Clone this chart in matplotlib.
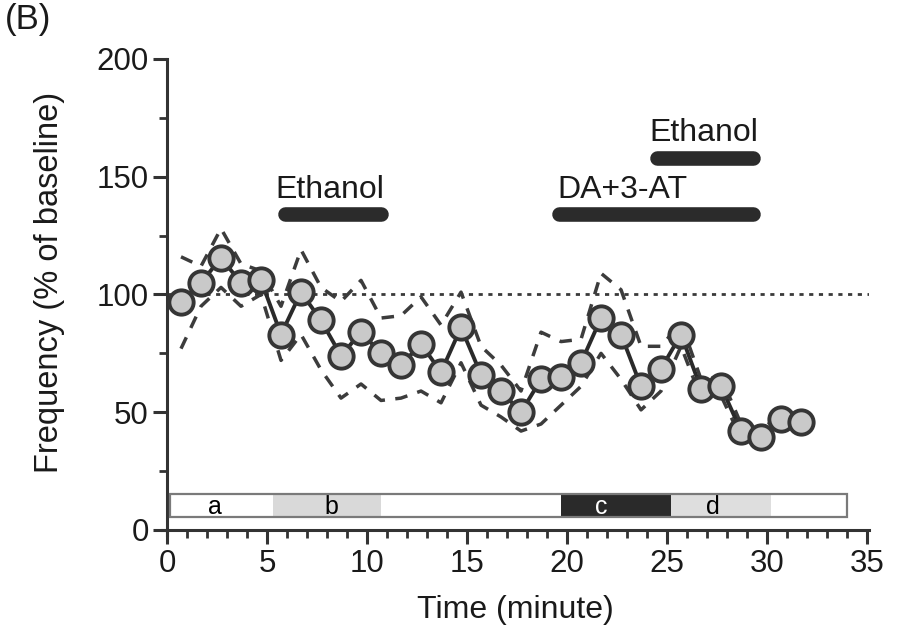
import matplotlib
matplotlib.use("Agg")
import matplotlib.pyplot as plt
from matplotlib.patches import Rectangle

plt.rcParams["font.family"] = ["Liberation Sans", "DejaVu Sans"]

# ---------------- data ----------------
minutes = [0.7, 1.7, 2.7, 3.7, 4.7, 5.7, 6.7, 7.7, 8.7, 9.7, 10.7, 11.7,
           12.7, 13.7, 14.7, 15.7, 16.7, 17.7, 18.7, 19.7, 20.7, 21.7,
           22.7, 23.7, 24.7, 25.7, 26.7, 27.7, 28.7, 29.7, 30.7, 31.7]
freq_mean = [97, 105, 115.5, 105, 106, 83, 101, 89, 74, 84, 75, 70,
             79, 67, 86, 66, 59, 50, 64, 65, 71, 90,
             83, 61, 68.5, 83, 60, 61, 42, 39.6, 47, 46]
freq_upper = [116, 112, 128, 113, 110, 95, 119, 103, 97, 106, 90, 91,
              99, 87, 101, 78, 70, 59, 84, 80, 81, 109,
              102, 78, 78, 88, 64, 65, 45, 42, 50, 49]
freq_lower = [77, 95, 103, 95, 100, 72, 83, 68, 56, 62, 55, 56,
              59, 54, 71, 53, 48, 42, 45, 53, 61, 75,
              64, 51, 59, 78, 56, 57, 39, 37, 44, 43]

# drug application bars: (label, start, end, level)
drug_bars = [("Ethanol", 5.9, 10.7, 134),
             ("DA+3-AT", 19.6, 29.3, 134),
             ("Ethanol", 24.5, 29.3, 158)]
drug_label_x = [5.4, 19.5, 24.1]

# epoch strip segments: (label, start, end, fill, text colour)
epochs = [("a", 0.15, 5.3, "white", "black"),
          ("b", 5.3, 10.7, "#d9d9d9", "black"),
          ("", 10.7, 19.7, "white", "black"),
          ("c", 19.7, 25.2, "#2a2a2a", "white"),
          ("d", 25.2, 30.2, "#dedede", "black"),
          ("", 30.2, 34.0, "white", "black")]
epoch_label_x = [2.4, 8.2, None, 21.7, 27.3, None]

# ---------------- figure ----------------
fig = plt.figure(figsize=(9, 6.37), dpi=100)
ax = fig.add_axes([0.18, 0.1606, 0.7856, 0.7468])

dark = "#333333"

# baseline
ax.plot([0, 35.1], [100, 100], color="#3a3a3a", lw=2.0,
        linestyle=(0, (1.5, 2.0)), zorder=1)

# SEM envelope
ax.plot(minutes, freq_upper, color="#3c3c3c", lw=2.5,
        linestyle=(0, (3.6, 3)), zorder=2)
ax.plot(minutes, freq_lower, color="#3c3c3c", lw=2.5,
        linestyle=(0, (3.6, 3)), zorder=2)

# mean
ax.plot(minutes, freq_mean, color="#2a2a2a", lw=2.8, marker="o",
        markersize=17.5, markerfacecolor="#c9c9c9",
        markeredgecolor="#353535", markeredgewidth=2.8, zorder=3)

# drug bars
for (lab, x0, x1, lev), lx in zip(drug_bars, drug_label_x):
    ax.plot([x0, x1], [lev, lev], color="#2b2b2b", lw=10.5,
            solid_capstyle="round", zorder=2)
    ax.text(lx, lev + 7, lab, fontsize=23, ha="left", va="baseline",
            color="#1a1a1a")

# epoch strip
for (lab, x0, x1, fc, tc), lx in zip(epochs, epoch_label_x):
    ax.add_patch(Rectangle((x0, 5.5), x1 - x0, 9.8, facecolor=fc,
                           edgecolor="none", zorder=2))
    if lx is not None:
        ax.text(lx, 9.8, lab, fontsize=18, ha="center", va="center",
                color=tc, zorder=3)
ax.add_patch(Rectangle((0.15, 5.5), 34.0 - 0.15, 9.8, facecolor="none",
                       edgecolor="#7a7a7a", lw=1.6, zorder=3))

# axes
ax.set_xlim(-0.25, 35.1)
ax.set_ylim(-2, 200)
for s in ["top", "right"]:
    ax.spines[s].set_visible(False)
ax.spines["left"].set_position(("data", 0))
ax.spines["bottom"].set_position(("data", 0))
for s in ["left", "bottom"]:
    ax.spines[s].set_color(dark)
    ax.spines[s].set_linewidth(2.2)

ax.set_xticks(range(0, 36, 5))
ax.set_xticks(range(0, 36, 1), minor=True)
ax.set_yticks(range(0, 201, 50))
ax.set_yticks(range(0, 201, 25), minor=True)
ax.tick_params(axis="both", which="major", direction="out", length=10,
               width=2.2, color=dark, labelsize=22.5, labelcolor="#1a1a1a")
ax.tick_params(axis="both", which="minor", direction="out", length=5.5,
               width=2.0, color=dark)
ax.tick_params(axis="x", which="major", pad=4)
ax.tick_params(axis="y", which="major", pad=3)

ax.set_xlabel("Time (minute)", fontsize=23, color="#1a1a1a")
ax.set_ylabel("Frequency (% of baseline)", fontsize=23.5, color="#1a1a1a")
ax.xaxis.set_label_coords(0.5, -0.127)
ax.yaxis.set_label_coords(-0.137, 0.531)

fig.text(0.005, 0.995, "(B)", fontsize=25, ha="left", va="top",
         color="#1a1a1a")

fig.savefig("out.png", dpi=100, facecolor="white")
